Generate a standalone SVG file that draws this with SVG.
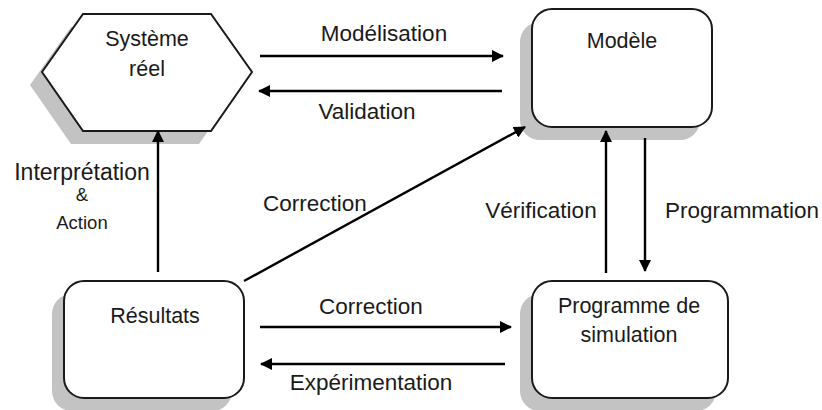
<svg xmlns="http://www.w3.org/2000/svg" width="822" height="410" viewBox="0 0 822 410">
<defs>
<style>
.shadow{fill:#c3c3c3;stroke:none}
.node{fill:#ffffff;stroke:#1a1a1a;stroke-width:2}
.lbl{font-family:"Liberation Sans",Arial,sans-serif;font-size:21.5px;fill:#1a1a1a;text-anchor:middle}
.elbl{font-family:"Liberation Sans",Arial,sans-serif;font-size:22.5px;fill:#1a1a1a;text-anchor:middle}
.edge{stroke:#000;stroke-width:2.4;fill:none;marker-end:url(#ah)}
</style>
<marker id="ah" viewBox="0 0 12 12" refX="11" refY="6" markerWidth="12" markerHeight="12" markerUnits="userSpaceOnUse" orient="auto">
<path d="M0,0 L12,6 L0,12 z" fill="#000"/>
</marker>
</defs>
<rect width="822" height="410" fill="#fff"/>
<g id="systeme-reel">
<polygon class="shadow" points="71,27 199,27 240,85 199,144 71,144 30,85"/>
<polygon class="node" points="83,14 211,14 252,72 211,131 83,131 42,72"/>
<text class="lbl" x="147" y="46">Système</text>
<text class="lbl" x="147" y="76">réel</text>
</g>
<g id="modele">
<rect class="shadow" x="520" y="22" width="180" height="118" rx="20"/>
<rect class="node" x="532" y="9" width="180" height="118" rx="20"/>
<text class="lbl" x="622" y="48">Modèle</text>
</g>
<g id="resultats">
<rect class="shadow" x="52" y="294" width="180" height="117" rx="20"/>
<rect class="node" x="64" y="281" width="180" height="117" rx="20"/>
<text class="lbl" x="155" y="323">Résultats</text>
</g>
<g id="programme">
<rect class="shadow" x="520" y="294" width="196" height="117" rx="20"/>
<rect class="node" x="532" y="281" width="196" height="117" rx="20"/>
<text class="lbl" x="629" y="313">Programme de</text>
<text class="lbl" x="629" y="342">simulation</text>
</g>
<g id="connectors">
<line class="edge" x1="260" y1="56" x2="503" y2="56"/>
<line class="edge" x1="502" y1="91" x2="259" y2="91"/>
<line class="edge" x1="158" y1="272" x2="158" y2="131"/>
<line class="edge" x1="244" y1="281" x2="525" y2="127"/>
<line class="edge" x1="606" y1="273" x2="606" y2="131"/>
<line class="edge" x1="645" y1="138" x2="645" y2="271"/>
<line class="edge" x1="260" y1="327" x2="511" y2="327"/>
<line class="edge" x1="505" y1="364" x2="261" y2="364"/>
<text class="elbl" x="384" y="41">Modélisation</text>
<text class="elbl" x="367" y="119">Validation</text>
<text class="elbl" x="82" y="180" style="font-size:23px">Interprétation</text>
<text class="elbl" x="82" y="201" style="font-size:18.5px">&amp;</text>
<text class="elbl" x="82" y="229" style="font-size:18.5px">Action</text>
<text class="elbl" x="315" y="211">Correction</text>
<text class="elbl" x="541" y="218">Vérification</text>
<text class="elbl" x="742" y="218">Programmation</text>
<text class="elbl" x="371" y="314">Correction</text>
<text class="elbl" x="371" y="390">Expérimentation</text>
</g>
</svg>
